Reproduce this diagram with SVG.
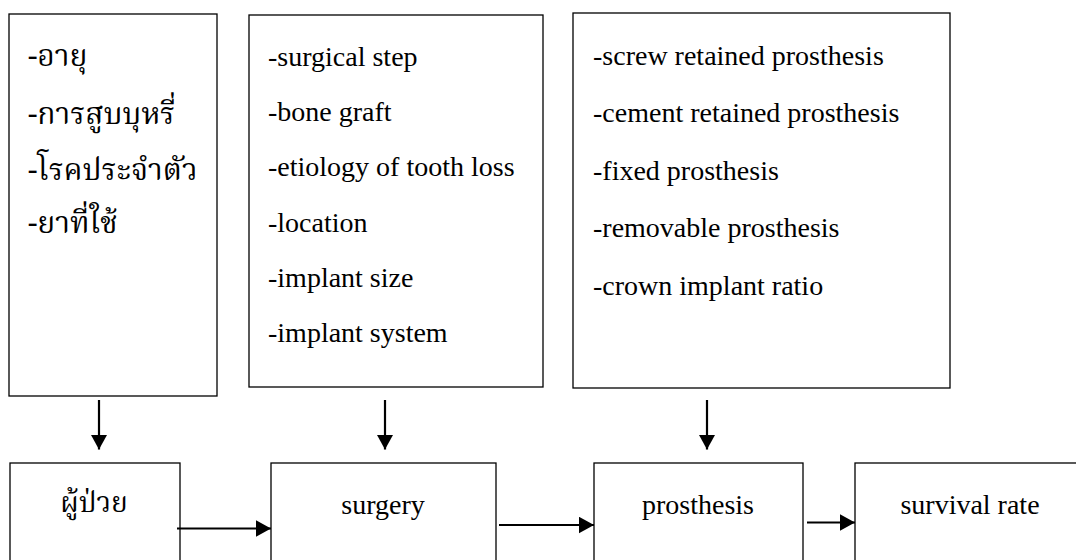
<svg xmlns="http://www.w3.org/2000/svg" width="1076" height="560" viewBox="0 0 1076 560">
  <style>
    .box { fill: #fff; stroke: #000; stroke-width: 1.3; }
    .t { font-family: "Liberation Serif", "Times New Roman", serif; font-size: 28px; fill: #000; }
    .th { font-family: "Noto Serif Thai", "Norasi", "Kinnari", "Liberation Serif", serif; font-size: 28px; fill: #000; }
    .thl { font-size: 30px; }
    .c { text-anchor: middle; }
    .conn { stroke: #000; stroke-width: 2.2; fill: none; }
  </style>
  <defs>
    <marker id="ah" markerUnits="userSpaceOnUse" markerWidth="16" markerHeight="17" refX="15" refY="8.25" orient="auto">
      <path d="M0,0 L15,8.25 L0,16.5 z" fill="#000"/>
    </marker>
  </defs>
  <rect width="1076" height="560" fill="#fff"/>

  <g id="factors-patient">
    <rect class="box" x="9" y="14" width="208" height="382"/>
    <text class="th thl" x="28" y="66">-อายุ</text>
    <text class="th thl" x="28" y="124">-การสูบบุหรี่</text>
    <text class="th thl" x="28" y="180">-โรคประจำตัว</text>
    <text class="th thl" x="28" y="233">-ยาที่ใช้</text>
  </g>

  <g id="factors-surgery">
    <rect class="box" x="249" y="15" width="294" height="372"/>
    <text class="t" x="268" y="66">-surgical step</text>
    <text class="t" x="268" y="121">-bone graft</text>
    <text class="t" x="268" y="176">-etiology of tooth loss</text>
    <text class="t" x="268" y="232">-location</text>
    <text class="t" x="268" y="287">-implant size</text>
    <text class="t" x="268" y="342">-implant system</text>
  </g>

  <g id="factors-prosthesis">
    <rect class="box" x="573" y="13" width="377" height="375"/>
    <text class="t" x="593" y="65">-screw retained prosthesis</text>
    <text class="t" x="593" y="122">-cement retained prosthesis</text>
    <text class="t" x="593" y="180">-fixed prosthesis</text>
    <text class="t" x="593" y="237">-removable prosthesis</text>
    <text class="t" x="593" y="295">-crown implant ratio</text>
  </g>

  <g id="patient">
    <rect class="box" x="10" y="463" width="170" height="110"/>
    <text class="th c" x="94" y="512">ผู้ป่วย</text>
  </g>

  <g id="surgery">
    <rect class="box" x="271" y="463" width="225" height="110"/>
    <text class="t c" x="383" y="514">surgery</text>
  </g>

  <g id="prosthesis">
    <rect class="box" x="594" y="463" width="209" height="110"/>
    <text class="t c" x="698" y="514">prosthesis</text>
  </g>

  <g id="survival-rate">
    <rect class="box" x="855" y="463" width="240" height="110"/>
    <text class="t c" x="970" y="514">survival rate</text>
  </g>

  <g id="connectors">
    <line class="conn" x1="99" y1="400" x2="99" y2="449.5" marker-end="url(#ah)"/>
    <line class="conn" x1="385" y1="400" x2="385" y2="449.5" marker-end="url(#ah)"/>
    <line class="conn" x1="707" y1="400" x2="707" y2="449.5" marker-end="url(#ah)"/>
    <line class="conn" x1="177" y1="528.5" x2="271" y2="528.5" marker-end="url(#ah)"/>
    <line class="conn" x1="499" y1="525" x2="594" y2="525" marker-end="url(#ah)"/>
    <line class="conn" x1="807" y1="522.5" x2="855" y2="522.5" marker-end="url(#ah)"/>
  </g>
</svg>
